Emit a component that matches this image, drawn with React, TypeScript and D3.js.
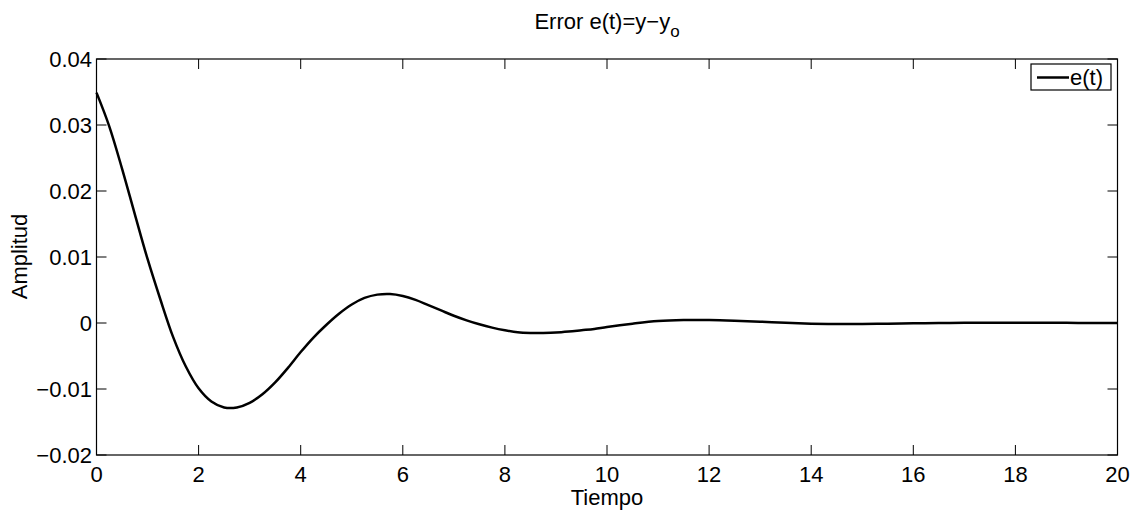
import React from "react";
import * as d3 from "d3";

const timeValues = [0, 0.25, 0.5, 0.75, 1.0, 1.25, 1.5, 1.75, 2.0, 2.25, 2.5, 2.75, 3.0, 3.25, 3.5, 3.75, 4.0, 4.25, 4.5, 4.75, 5.0, 5.25, 5.5, 5.75, 6.0, 6.25, 6.5, 6.75, 7.0, 7.25, 7.5, 7.75, 8.0, 8.25, 8.5, 8.75, 9.0, 9.25, 9.5, 9.75, 10.0, 10.5, 11.0, 11.5, 12.0, 12.5, 13.0, 13.5, 14.0, 14.5, 15.0, 15.5, 16.0, 16.5, 17.0, 17.5, 18.0, 18.5, 19.0, 19.5, 20.0];
const errorValues = [0.0349, 0.0298, 0.0234, 0.0165, 0.0097, 0.0036, -0.0021, -0.0066, -0.0099, -0.0119, -0.0128, -0.0128, -0.0121, -0.0108, -0.009, -0.0068, -0.0044, -0.0022, -0.0003, 0.0014, 0.0028, 0.0038, 0.0043, 0.0044, 0.0041, 0.0035, 0.0027, 0.0019, 0.0011, 0.0004, -0.0002, -0.0007, -0.0011, -0.0014, -0.0015, -0.0015, -0.00145, -0.0013, -0.0011, -0.0009, -0.0006, -0.0001, 0.0003, 0.00045, 0.00045, 0.00035, 0.0002, 0.00002, -0.0001, -0.00015, -0.00014, -0.0001, -0.00005, 0.0, 0.00003, 0.00005, 0.00005, 0.00004, 0.00002, 0.0, -0.00001];
const xTicks = [0, 2, 4, 6, 8, 10, 12, 14, 16, 18, 20];
const yTicks = [-0.02, -0.01, 0, 0.01, 0.02, 0.03, 0.04];
const yTickLabels = ["\u22120.02", "\u22120.01", "0", "0.01", "0.02", "0.03", "0.04"];
const seriesName = "e(t)";
const xLabel = "Tiempo";
const yLabel = "Amplitud";

const W = 1136;
const H = 512;
const L = 96.5;
const R = 1117.5;
const T = 59;
const B = 455;
const FONT = "'Liberation Sans', Arial, Helvetica, sans-serif";
const FS = 22;

export default function App() {
  const x = d3.scaleLinear().domain([0, 20]).range([L, R]);
  const y = d3.scaleLinear().domain([-0.02, 0.04]).range([B, T]);
  const pts: [number, number][] = timeValues.map((t, i) => [t, errorValues[i]]);
  const line = d3
    .line<[number, number]>()
    .x((d) => x(d[0]))
    .y((d) => y(d[1]))
    .curve(d3.curveCatmullRom.alpha(0.5));
  const tl = 10;
  return (
    <svg width={W} height={H} style={{ position: "absolute", left: 0, top: 0, background: "#fff" }} fontFamily={FONT}>
      <rect x={0} y={0} width={W} height={H} fill="#fff" />
      <text x={(L + R) / 2} y={28.5} fontSize={FS} textAnchor="middle" fill="#000">
        Error e(t)=y{"\u2212"}y
        <tspan fontSize={17} dy={8}>o</tspan>
      </text>
      {xTicks.map((t) => (
        <g key={"x" + t}>
          <line x1={x(t)} x2={x(t)} y1={B} y2={B - tl} stroke="#000" strokeWidth={1} />
          <line x1={x(t)} x2={x(t)} y1={T} y2={T + tl} stroke="#000" strokeWidth={1} />
          <text x={x(t)} y={481.5} fontSize={FS} textAnchor="middle" fill="#000">
            {t}
          </text>
        </g>
      ))}
      {yTicks.map((v, i) => (
        <g key={"y" + i}>
          <line x1={L} x2={L + tl} y1={y(v)} y2={y(v)} stroke="#000" strokeWidth={1} />
          <line x1={R} x2={R - tl} y1={y(v)} y2={y(v)} stroke="#000" strokeWidth={1} />
          <text x={92} y={y(v) + 8} fontSize={FS} textAnchor="end" fill="#000">
            {yTickLabels[i]}
          </text>
        </g>
      ))}
      <rect x={L} y={T} width={R - L} height={B - T} fill="none" stroke="#000" strokeWidth={1.2} />
      <path d={line(pts) || ""} fill="none" stroke="#000" strokeWidth={2.5} strokeLinejoin="round" />
      <text x={(L + R) / 2} y={505} fontSize={FS} textAnchor="middle" fill="#000">
        {xLabel}
      </text>
      <text transform={`translate(27,256.5) rotate(-90)`} fontSize={FS} textAnchor="middle" fill="#000">
        {yLabel}
      </text>
      <g>
        <rect x={1031} y={64} width={80} height={26} fill="#fff" stroke="#000" strokeWidth={1.2} />
        <line x1={1037} x2={1069} y1={77.5} y2={77.5} stroke="#000" strokeWidth={2.5} />
        <text x={1070} y={85} fontSize={FS} fill="#000">
          {seriesName}
        </text>
      </g>
    </svg>
  );
}
